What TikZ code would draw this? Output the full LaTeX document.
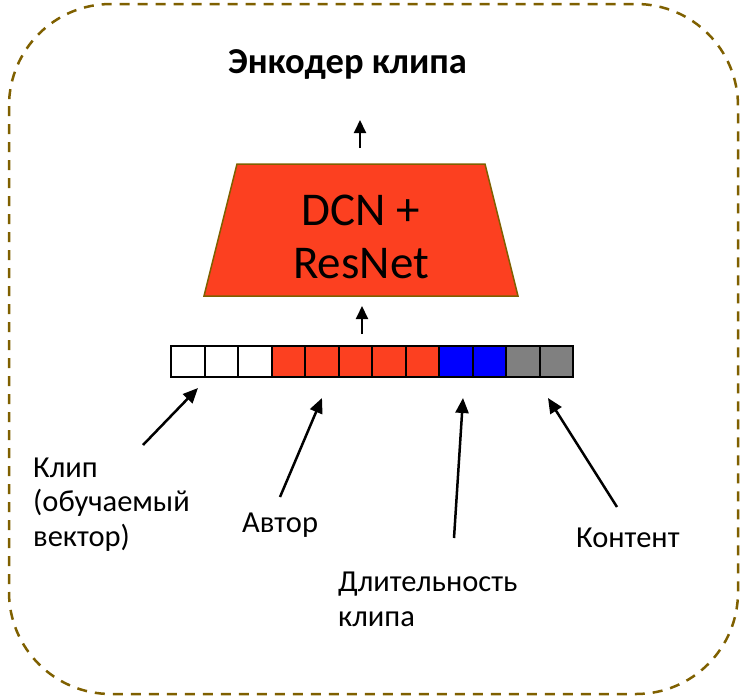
\documentclass[tikz,border=0pt]{standalone}
\usepackage{fontspec}
\setmainfont{Carlito}
\usetikzlibrary{arrows.meta}
\definecolor{frameolive}{HTML}{7F6000}
\definecolor{netred}{HTML}{FC4020}
\definecolor{slotblue}{HTML}{0000FF}
\definecolor{slotgray}{HTML}{808080}
\begin{document}
\begin{tikzpicture}[x=1pt,y=-1pt,
  frameline/.style={draw=frameolive, line width=2.5pt, dash pattern=on 10pt off 8pt, rounded corners=102pt},
  netbox/.style={draw=frameolive, line width=1.5pt, fill=netred},
  slot/.style={draw=black, line width=2pt, minimum width=33.5pt, minimum height=31pt, inner sep=0pt, outer sep=0pt},
  lbl/.style={font=\fontsize{30.5}{34.5}\selectfont, align=left, inner sep=0pt, anchor=base west},
  pointer/.style={-{Triangle[length=15pt,width=13pt]}, line width=2.5pt},
  flow/.style={-{Triangle[length=13pt,width=12pt]}, line width=2pt}]
\useasboundingbox (0,0) rectangle (743,699);

% dashed outer frame
\draw[frameline] (9,4) rectangle (738,694);

% title
\node[font=\fontsize{36.5}{42}\selectfont\bfseries, inner sep=0pt, anchor=base] (title) at (347.5,73) {Энкодер клипа};

% encoder block
\draw[netbox] (237,164) -- (485,164) -- (518,296) -- (204,296) -- cycle;
\node[font=\fontsize{47}{53}\selectfont, align=center, inner sep=0pt, anchor=base] (net) at (361,278) {DCN +\\ResNet};

% feature slots
\foreach \c [count=\i] in {white,white,white,netred,netred,netred,netred,netred,slotblue,slotblue,slotgray,slotgray}
  \node[slot, fill=\c] (s\i) at ({171+33.5*(\i-0.5)}, 361.5) {};

% vertical flow arrows
\coordinate (up1a) at (362,334);
\coordinate (up1b) at (362,306);
\coordinate (up2a) at (360,148);
\coordinate (up2b) at (360,120);
\draw[flow] (up1a) -- (up1b);
\draw[flow] (up2a) -- (up2b);

% labels (base anchor sits on the last line)
\node[lbl] (clip) at (33,546) {Клип\\(обучаемый\\вектор)};
\node[lbl] (author) at (242,532) {Автор};
\node[lbl] (dur) at (338,626) {Длительность\\клипа};
\node[lbl] (content) at (576,547) {Контент};

% pointers to the slots
\coordinate (p1a) at (143,445); \coordinate (p1b) at (198,388);
\coordinate (p2a) at (280,497); \coordinate (p2b) at (322,398);
\coordinate (p3a) at (454,538); \coordinate (p3b) at (463,398);
\coordinate (p4a) at (617,507); \coordinate (p4b) at (548,398);
\draw[pointer] (p1a) -- (p1b);
\draw[pointer] (p2a) -- (p2b);
\draw[pointer] (p3a) -- (p3b);
\draw[pointer] (p4a) -- (p4b);
\end{tikzpicture}
\end{document}
